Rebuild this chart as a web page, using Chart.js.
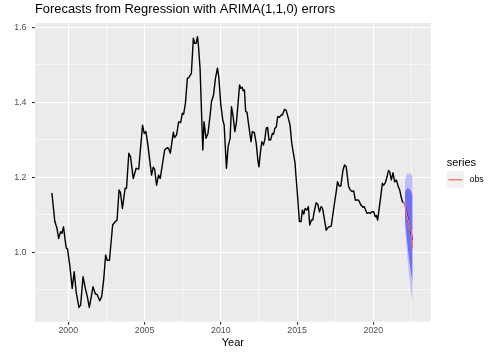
<!DOCTYPE html>
<html>
<head>
<meta charset="utf-8">
<script src="https://cdn.jsdelivr.net/npm/chart.js@4.4.0/dist/chart.umd.min.js"></script>
<style>
html,body{margin:0;padding:0;background:#fff;}
#wrap{width:494px;height:353px;}
</style>
</head>
<body>
<div id="wrap"><canvas id="c" width="494" height="353"></canvas></div>
<script>
const histYears = [1998.93,1999.12,1999.26,1999.37,1999.50,1999.59,1999.69,1999.78,1999.87,1999.95,
  2000.11,2000.26,2000.39,2000.53,2000.70,2000.81,2000.97,2001.12,2001.25,2001.38,2001.51,2001.62,2001.78,2001.89,
  2002.06,2002.19,2002.32,2002.45,2002.55,2002.70,2002.91,2003.05,2003.20,2003.33,2003.42,2003.55,2003.73,2003.82,
  2003.97,2004.08,2004.26,2004.45,2004.62,2004.87,2004.98,2005.09,2005.22,2005.46,2005.57,2005.66,2005.79,2005.92,
  2006.03,2006.32,2006.42,2006.53,2006.62,2006.69,2006.89,2006.97,2007.10,2007.24,2007.37,2007.48,2007.56,2007.68,
  2007.81,2007.90,2008.07,2008.20,2008.29,2008.38,2008.47,2008.53,2008.64,2008.82,2008.90,2009.03,2009.16,2009.30,
  2009.39,2009.52,2009.65,2009.78,2009.87,2010.00,2010.13,2010.22,2010.37,2010.48,2010.61,2010.70,2010.81,2010.92,
  2011.03,2011.23,2011.32,2011.40,2011.47,2011.55,2011.63,2011.72,2011.80,2011.98,2012.07,2012.20,2012.32,2012.43,
  2012.50,2012.60,2012.69,2012.79,2012.88,2012.98,2013.07,2013.16,2013.27,2013.38,2013.46,2013.55,2013.64,2013.73,
  2013.84,2013.95,2014.04,2014.17,2014.28,2014.43,2014.54,2014.65,2014.76,2014.87,2014.93,2015.02,2015.15,2015.26,
  2015.35,2015.44,2015.53,2015.64,2015.74,2015.83,2015.94,2016.03,2016.12,2016.25,2016.36,2016.47,2016.58,2016.67,
  2016.78,2016.91,2017.06,2017.24,2017.39,2017.55,2017.65,2017.76,2017.87,2018.01,2018.11,2018.22,2018.38,2018.49,
  2018.60,2018.71,2018.82,2018.93,2019.03,2019.19,2019.32,2019.40,2019.49,2019.58,2019.69,2019.80,2019.91,2020.02,
  2020.13,2020.20,2020.28,2020.37,2020.50,2020.59,2020.68,2020.79,2020.90,2020.99,2021.07,2021.18,2021.29,2021.40,
  2021.51,2021.64,2021.73,2021.82,2021.91,2021.99];
const histValues = [1.157,1.082,1.064,1.037,1.055,1.051,1.068,1.037,1.011,1.009,
  0.962,0.904,0.948,0.891,0.853,0.859,0.935,0.904,0.882,0.853,0.882,0.908,0.889,0.888,
  0.871,0.882,0.926,0.993,0.979,0.979,1.073,1.080,1.086,1.166,1.160,1.117,1.171,1.171,
  1.264,1.255,1.197,1.224,1.222,1.339,1.317,1.322,1.286,1.206,1.227,1.222,1.179,1.206,
  1.197,1.273,1.277,1.279,1.273,1.264,1.320,1.306,1.313,1.348,1.346,1.371,1.368,1.397,
  1.464,1.466,1.477,1.571,1.557,1.557,1.575,1.553,1.491,1.273,1.348,1.304,1.317,1.366,
  1.402,1.419,1.464,1.491,1.468,1.393,1.353,1.339,1.224,1.282,1.304,1.388,1.362,1.322,
  1.348,1.446,1.437,1.440,1.431,1.433,1.375,1.374,1.348,1.295,1.322,1.319,1.291,1.246,
  1.228,1.268,1.295,1.286,1.299,1.331,1.333,1.299,1.300,1.317,1.315,1.331,1.335,1.362,
  1.360,1.366,1.366,1.381,1.379,1.357,1.339,1.291,1.264,1.237,1.202,1.157,1.082,1.082,
  1.113,1.102,1.117,1.113,1.122,1.073,1.086,1.086,1.108,1.132,1.128,1.108,1.122,1.117,
  1.091,1.059,1.067,1.070,1.113,1.157,1.188,1.177,1.177,1.219,1.233,1.228,1.175,1.166,
  1.162,1.164,1.139,1.140,1.139,1.126,1.120,1.122,1.113,1.104,1.106,1.104,1.108,1.108,
  1.095,1.098,1.086,1.113,1.153,1.184,1.179,1.186,1.202,1.218,1.215,1.193,1.212,1.188,
  1.193,1.175,1.166,1.148,1.135,1.132];

// Forecast horizon
const fcYears  = [2022.07,2022.16,2022.24,2022.32,2022.41,2022.49,2022.57];
const fcMean   = [1.128,1.112,1.095,1.078,1.062,1.048,1.035];
const fcHi95   = [1.190,1.205,1.210,1.210,1.210,1.207,1.205];
const fcLo95   = [1.070,1.020,0.985,0.950,0.918,0.885,0.855];
const fcHi80   = [1.160,1.168,1.170,1.170,1.167,1.160,1.150];
const fcLo80   = [1.090,1.050,1.020,0.990,0.965,0.940,0.920];

// Observed test values ("obs")
const obsYears  = [2021.99,2022.07,2022.16,2022.24,2022.32,2022.41,2022.49,2022.57];
const obsValues = [1.132,1.132,1.106,1.090,1.078,1.059,1.057,1.013];

// Axis ticks
const xMajor = [2000,2005,2010,2015,2020];
const xMinor = [2002.5,2007.5,2012.5,2017.5,2022.5];
const yMajor = [1.0,1.2,1.4,1.6];
const yMinor = [0.9,1.1,1.3,1.5];

const FONT = "'Liberation Sans', Arial, Helvetica, sans-serif";
function pts(xs, ys){ return xs.map((x,i)=>({x:x, y:ys[i]})); }
function isMajor(list, v){ return list.some(m=>Math.abs(m-v)<1e-6); }

const panelBg = {
  id: 'panelBg',
  beforeDraw(chart){
    const {ctx, chartArea:a} = chart;
    ctx.save();
    ctx.fillStyle = '#EBEBEB';
    ctx.fillRect(a.left, a.top, a.right-a.left, a.bottom-a.top);
    ctx.restore();
  }
};

// ggplot-like legend to the right of the panel
const seriesLegend = {
  id: 'seriesLegend',
  afterDraw(chart){
    const ctx = chart.ctx, a = chart.chartArea;
    const ds = chart.data.datasets.find(d=>d.label==='obs');
    const x0 = a.right + 16;
    const cy = (a.top + a.bottom)/2;
    ctx.save();
    ctx.fillStyle = '#000'; ctx.font = '11px ' + FONT;
    ctx.textAlign = 'left'; ctx.textBaseline = 'alphabetic';
    ctx.fillText('series', x0, cy - 6.5);
    ctx.fillStyle = '#F2F2F2';
    ctx.fillRect(x0, cy - 1.3, 17.3, 17.3);
    ctx.strokeStyle = ds.borderColor; ctx.lineWidth = 1.4;
    ctx.beginPath(); ctx.moveTo(x0+1.7, cy+7.4); ctx.lineTo(x0+15.6, cy+7.4); ctx.stroke();
    ctx.fillStyle = '#000'; ctx.font = '8.8px ' + FONT; ctx.textBaseline = 'middle';
    ctx.fillText('obs', x0 + 22.8, cy + 7.6);
    ctx.restore();
  }
};

const line = (label, data, color, order, extra) => Object.assign({
  label, data, borderColor: color, borderWidth: 1.4, pointRadius: 0, tension: 0,
  borderJoinStyle: 'round', borderCapStyle: 'round', fill: false, order
}, extra||{});
const clear = 'rgba(0,0,0,0)';

new Chart(document.getElementById('c'), {
  type: 'line',
  data: {
    datasets: [
      line('hist', pts(histYears, histValues), '#000000', 1),
      line('lo95', pts(fcYears, fcLo95), clear, 6, {borderWidth: 0}),
      line('hi95', pts(fcYears, fcHi95), clear, 5, {borderWidth: 0, fill: '-1', backgroundColor: '#BDBDF9'}),
      line('lo80', pts(fcYears, fcLo80), clear, 4, {borderWidth: 0}),
      line('hi80', pts(fcYears, fcHi80), clear, 3, {borderWidth: 0, fill: '-1', backgroundColor: '#6E6EF7'}),
      line('mean', pts(fcYears, fcMean), '#0000FF', 2),
      line('obs', pts(obsYears, obsValues), '#F8766D', 0)
    ]
  },
  options: {
    responsive: false,
    animation: false,
    events: [],
    layout: { padding: { left: 0, right: 63.3, top: 0, bottom: 0 } },
    plugins: {
      legend: { display: false },
      tooltip: { enabled: false },
      title: {
        display: true, align: 'start', fullSize: false,
        text: 'Forecasts from Regression with ARIMA(1,1,0) errors',
        color: '#000', font: { family: FONT, size: 12.9, weight: 'normal' },
        padding: { top: 2, bottom: 5.5 }
      }
    },
    scales: {
      x: {
        type: 'linear', min: 1997.82, max: 2023.76,
        afterBuildTicks: s => { s.ticks = xMajor.concat(xMinor).sort((a,b)=>a-b).map(v=>({value:v})); },
        afterFit: s => { s.height = 31.3; },
        border: { display: false },
        grid: {
          color: '#FFFFFF',
          lineWidth: c => isMajor(xMajor, c.tick.value) ? 1.1 : 0.55,
          drawTicks: true, tickLength: 3, tickWidth: 1.1,
          tickColor: c => isMajor(xMajor, c.tick.value) ? '#333333' : clear
        },
        ticks: {
          autoSkip: false, maxRotation: 0, padding: 1, color: '#4D4D4D',
          font: { family: FONT, size: 8.8 },
          callback: v => isMajor(xMajor, v) ? String(v) : ''
        },
        title: { display: true, text: 'Year', color: '#000', font: { family: FONT, size: 11 }, padding: { top: 0, bottom: 3.5 } }
      },
      y: {
        type: 'linear', min: 0.815, max: 1.6115,
        afterBuildTicks: s => { s.ticks = yMinor.concat(yMajor).sort((a,b)=>a-b).map(v=>({value:v})); },
        afterFit: s => { s.width = 35; },
        border: { display: false },
        grid: {
          color: '#FFFFFF',
          lineWidth: c => isMajor(yMajor, c.tick.value) ? 1.1 : 0.55,
          drawTicks: true, tickLength: 3, tickWidth: 1.1,
          tickColor: c => isMajor(yMajor, c.tick.value) ? '#333333' : clear
        },
        ticks: {
          autoSkip: false, padding: 5.5, color: '#4D4D4D',
          font: { family: FONT, size: 8.8 },
          callback: v => isMajor(yMajor, v) ? v.toFixed(1) : ''
        }
      }
    }
  },
  plugins: [panelBg, seriesLegend]
});
</script>
</body>
</html>
